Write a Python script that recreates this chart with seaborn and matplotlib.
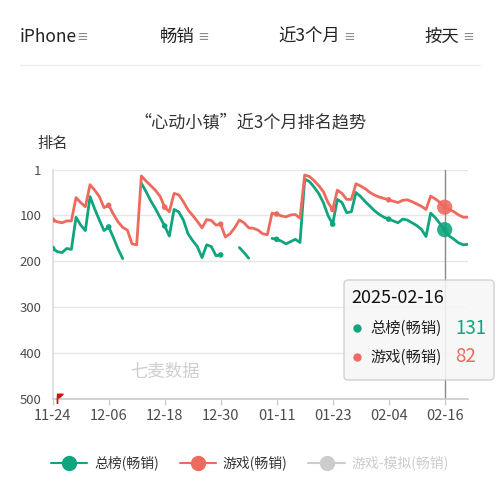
import numpy as np
import pandas as pd
import matplotlib
matplotlib.use('Agg')
import matplotlib.pyplot as plt
import seaborn as sns
from matplotlib.lines import Line2D
from matplotlib.patches import FancyBboxPatch
from matplotlib.path import Path

sns.set_theme(style='white')
plt.rcParams['font.family'] = ['Noto Sans CJK SC', 'DejaVu Sans']

# daily ranks 2024-11-24 .. 2025-02-21 (nan = not ranked)
nan = np.nan
overall = [172, 179, 181, 172, 174, 104, 121, 133, 59, 86,
           110, 133, 125, 148, 173, 194, nan, nan, nan, 30,
           48, 68, 85, 104, 123, 145, 87, 92, 110, 140,
           155, 168, 192, 164, 168, 188, 186, nan, nan, nan,
           170, 181, 193, nan, nan, nan, nan, 150, 152, 156,
           162, 157, 152, 159, 21, 26, 38, 52, 72, 100,
           119, 65, 72, 94, 92, 50, 59, 70, 80, 90,
           98, 104, 108, 112, 116, 108, 110, 116, 122, 130,
           146, 95, 105, 118, 131, 145, 152, 160, 164, 163]
game = [110, 114, 116, 112, 112, 61, 72, 81, 33, 45,
        59, 83, 78, 97, 114, 126, 132, 162, 164, 14,
        25, 35, 45, 58, 82, 92, 52, 55, 70, 88,
        100, 113, 127, 109, 111, 121, 119, 147, 140, 127,
        110, 116, 127, 128, 132, 140, 142, 95, 97, 101,
        103, 99, 98, 106, 12, 15, 24, 35, 48, 72,
        87, 45, 52, 65, 65, 31, 36, 42, 50, 56,
        60, 63, 66, 69, 72, 67, 66, 70, 75, 80,
        87, 58, 64, 72, 82, 87, 92, 99, 104, 104]
series_names = ['总榜(畅销)', '游戏(畅销)', '游戏-模拟(畅销)']
series_colors = ['#11a57f', '#ee6a5e', '#cccccc']
tick_labels = ['11-24', '12-06', '12-18', '12-30', '01-11', '01-23', '02-04', '02-16']
hover_day = 84
hover_date = '2025-02-16'
flag_days = [1]
flag_rank = [497]

days = np.arange(len(overall))
df = pd.DataFrame({'day': days, series_names[0]: overall, series_names[1]: game})
long = df.melt('day', var_name='series', value_name='rank')
# break the line where rank is missing
long['seg'] = long.groupby('series')['rank'].transform(lambda s: s.isna().cumsum())
long = long.dropna()
palette = dict(zip(series_names, series_colors))

fig = plt.figure(figsize=(5, 5), dpi=100)
ax = fig.add_axes([0.1054, 0.202, 0.8306, 0.458])

sns.lineplot(data=long, x='day', y='rank', hue='series', units='seg', estimator=None,
             palette=palette, linewidth=2.0, legend=False, ax=ax, zorder=3)
ticks_pts = long[long['day'] % 12 == 0]
sns.scatterplot(data=ticks_pts, x='day', y='rank', hue='series', palette=palette,
                s=16, linewidth=0, legend=False, ax=ax, zorder=4)
ax.axvline(hover_day, color='#8a8a8a', linewidth=1, zorder=2)
hov = long[long['day'] == hover_day]
sns.scatterplot(data=hov, x='day', y='rank', hue='series', palette=palette,
                s=120, linewidth=0, alpha=0.9, legend=False, ax=ax, zorder=5)

# version flag
flag = Path([(0, -1.2), (0, 1), (1.3, 1), (0.5, 0.2), (0, 0.2), (0, -1.2)],
            [Path.MOVETO, Path.LINETO, Path.LINETO, Path.LINETO, Path.LINETO, Path.LINETO])
ax.plot(flag_days, flag_rank, marker=flag, markersize=8, color='#cc1111',
        linestyle='none', clip_on=False, zorder=6)

ax.set_xlim(0, len(overall) - 1)
ax.set_ylim(500, 1)
ax.set_yticks([1, 100, 200, 300, 400, 500])
ax.set_yticklabels(['1', '100', '200', '300', '400', '500'])
ax.set_xticks(np.arange(0, len(overall), 12))
ax.set_xticklabels(tick_labels)
ax.set_xlabel('')
ax.set_ylabel('')
ax.yaxis.grid(True, color='#e6e6e6', linewidth=1)
ax.tick_params(axis='y', length=0, pad=8, labelsize=9.5, labelcolor='#4d4d4d')
ax.tick_params(axis='x', length=4, width=1, color='#cccccc', pad=3, labelsize=10.5,
               labelcolor='#4d4d4d', direction='out', bottom=True)
for side in ['top', 'right']:
    ax.spines[side].set_visible(False)
ax.spines['left'].set_color('#dddddd')
ax.spines['bottom'].set_color('#cccccc')

# header
header = [('iPhone', 20, 82), ('畅销', 160, 203), ('近3个月', 278, 349), ('按天', 424, 468)]
for txt, x0, x1 in header:
    fig.text(x0 / 500, 1 - 37 / 500, txt, fontsize=12.5, color='#222222', va='center', ha='left')
    fig.text(x1 / 500, 1 - 37 / 500, '≡', fontsize=8.5, color='#8c8c8c', va='center',
             ha='center', fontweight='bold')
fig.add_artist(Line2D([20 / 500, 480 / 500], [1 - 65 / 500] * 2, color='#eeeeee', linewidth=1))

fig.text(0.5, 1 - 122 / 500, '“心动小镇”近3个月排名趋势', fontsize=12.3, color='#333333',
         ha='center', va='center')
fig.text(37 / 500, 1 - 143 / 500, '排名', fontsize=11, color='#333333', ha='left', va='center')
fig.text(165 / 500, 1 - 372 / 500, '七麦数据', fontsize=12.5, color='#cfcfcf', ha='center',
         va='center', style='italic')

# tooltip
box = FancyBboxPatch((344 / 500, 1 - 380 / 500), 150 / 500, 100 / 500,
                     boxstyle='round,pad=0,rounding_size=0.008', transform=fig.transFigure,
                     facecolor='#f6f6f6', edgecolor='#cccccc', linewidth=1, alpha=0.88, zorder=10)
fig.add_artist(box)
fig.text(351 / 500, 1 - 298 / 500, hover_date, fontsize=13, color='#111111', va='center', zorder=11)
for i, (name, val) in enumerate(zip(series_names[:2], [overall[hover_day], game[hover_day]])):
    yy = 1 - (328 + 29 * i) / 500
    fig.add_artist(Line2D([357 / 500], [yy], marker='o', markersize=5, color=series_colors[i],
                          linestyle='none', zorder=11))
    fig.text(370 / 500, yy, name, fontsize=11, color='#222222', va='center', zorder=11)
    fig.text(455 / 500, yy, f'{val:.0f}', fontsize=13.5, color=series_colors[i], va='center', zorder=11)

# legend
handles = [Line2D([0], [0], color=c, linewidth=1.5, marker='o', markersize=10) for c in series_colors]
leg = fig.legend(handles, series_names, loc='center', bbox_to_anchor=(0.5, 1 - 463 / 500), ncol=3,
                 frameon=False, fontsize=10, handlelength=2.6, handletextpad=0.5, columnspacing=1.5)
for t, c in zip(leg.get_texts(), ['#333333', '#333333', '#cccccc']):
    t.set_color(c)

fig.savefig('out.png', dpi=100)
